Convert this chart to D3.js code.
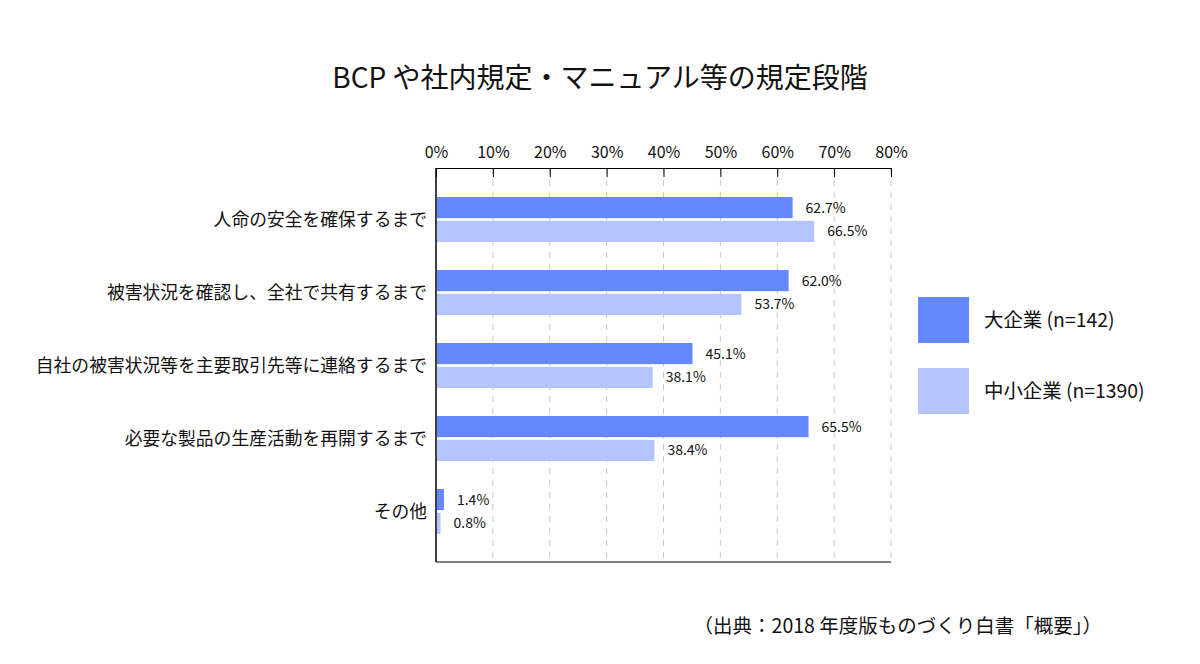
<!DOCTYPE html>
<html><head><meta charset="utf-8">
<script src="https://cdn.jsdelivr.net/npm/d3@7"></script>
<style>body{margin:0;background:#fff;} text{font-family:"Noto Sans CJK JP","Noto Sans",sans-serif;fill:#111;}</style>
</head><body>
<svg id="c" width="1200" height="664"></svg>
<script>
const categories = ["人命の安全を確保するまで","被害状況を確認し、全社で共有するまで","自社の被害状況等を主要取引先等に連絡するまで","必要な製品の生産活動を再開するまで","その他"];
const seriesNames = ["大企業 (n=142)","中小企業 (n=1390)"];
const largeValues = [62.7, 62.0, 45.1, 65.5, 1.4];
const smeValues = [66.5, 53.7, 38.1, 38.4, 0.8];
const tickValues = [0,10,20,30,40,50,60,70,80];
const colors = ["#6688ff","#b4c4ff"];

const svg = d3.select("#c");
const x = d3.scaleLinear().domain([0,80]).range([436,891]);
const y = d3.scaleBand().domain(categories).range([183,548]).paddingInner(28/73).paddingOuter(14/73);
const ys = d3.scaleBand().domain([0,1]).range([0,y.bandwidth()]).paddingInner(5/45);
const plotTop = 168, plotBottom = 562;

svg.append("text").attr("x",600).attr("y",88).attr("text-anchor","middle").attr("font-size",28).text("BCP や社内規定・マニュアル等の規定段階");

// gridlines
svg.append("g").selectAll("line").data(tickValues.slice(1)).join("line")
  .attr("x1",d=>x(d)).attr("x2",d=>x(d)).attr("y1",plotTop).attr("y2",plotBottom)
  .attr("stroke","#c8c8c8").attr("stroke-dasharray","6,6").attr("stroke-width",1);

// top axis
const ax = svg.append("g").attr("transform",`translate(0,${plotTop})`)
  .call(d3.axisTop(x).tickValues(tickValues).tickFormat(d=>d+"%").tickSizeInner(-9).tickSizeOuter(0).tickPadding(10));
ax.select(".domain").attr("stroke","#000");
ax.selectAll(".tick line").attr("stroke","#000");
ax.selectAll("text").attr("font-size",16).attr("font-family","'Noto Sans CJK JP','Noto Sans',sans-serif").attr("fill","#111");

// left and bottom lines
svg.append("line").attr("x1",x(0)).attr("x2",x(0)).attr("y1",plotTop).attr("y2",plotBottom).attr("stroke","#000").attr("stroke-width",1.5);
svg.append("line").attr("x1",x(0)).attr("x2",x(80)).attr("y1",plotBottom).attr("y2",plotBottom).attr("stroke","#000");

const data = categories.map((c,i)=>({c, vals:[largeValues[i], smeValues[i]]}));
const g = svg.append("g").selectAll("g").data(data).join("g").attr("transform",d=>`translate(0,${y(d.c)})`);
g.selectAll("rect").data(d=>d.vals.map((v,k)=>({v,k}))).join("rect")
  .attr("x",x(0)+1).attr("y",d=>ys(d.k)).attr("width",d=>x(d.v)-x(0)-1).attr("height",ys.bandwidth())
  .attr("fill",d=>colors[d.k]);
g.selectAll("text.v").data(d=>d.vals.map((v,k)=>({v,k}))).join("text").attr("class","v")
  .attr("x",d=>x(d.v)+13).attr("y",d=>ys(d.k)+ys.bandwidth()/2+5).attr("font-size",14)
  .text(d=>d.v.toFixed(1)+"%");
g.append("text").attr("x",427).attr("y",y.bandwidth()/2+6).attr("text-anchor","end").attr("font-size",17.8).text(d=>d.c);

// legend
const lg = svg.append("g").selectAll("g").data(seriesNames).join("g").attr("transform",(d,i)=>`translate(918,${297+i*71})`);
lg.append("rect").attr("width",51).attr("height",46).attr("fill",(d,i)=>colors[i]);
lg.append("text").attr("x",66).attr("y",30).attr("font-size",19.4).text(d=>d);

svg.append("text").attr("x",1102).attr("y",633).attr("text-anchor","end").attr("font-size",19.5).text("（出典：2018 年度版ものづくり白書「概要」）");
</script>
</body></html>
